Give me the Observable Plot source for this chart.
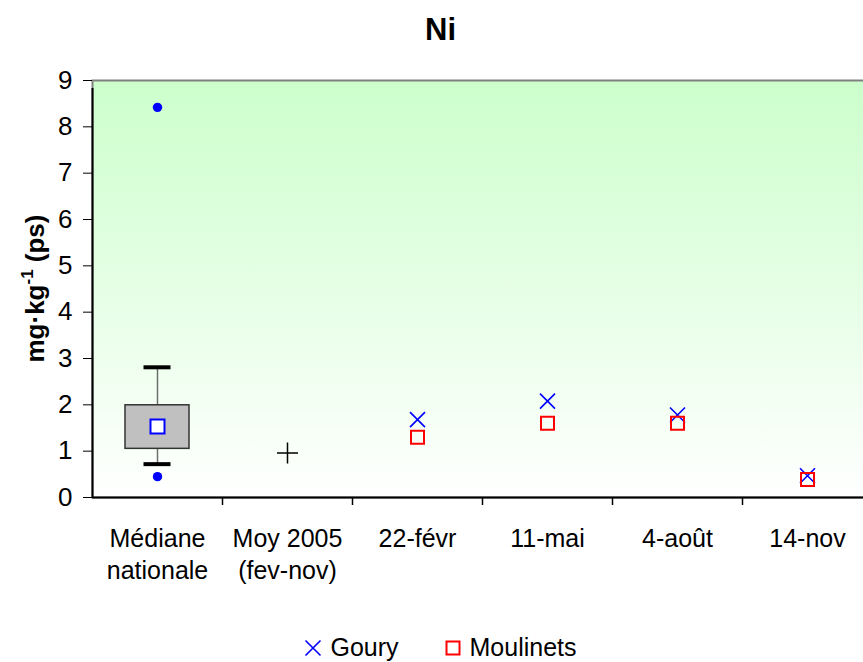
<!DOCTYPE html>
<html>
<head>
<meta charset="utf-8">
<script src="https://cdn.jsdelivr.net/npm/d3@7"></script>
<script src="https://cdn.jsdelivr.net/npm/@observablehq/plot@0.6"></script>
<style>
  body { margin: 0; background: #fff; font-family: "Liberation Sans", Arial, sans-serif; }
  #wrap { width: 863px; height: 662px; overflow: hidden; position: relative; }
  #title { height: 60px; line-height: 60px; text-align: center; font-weight: bold; font-size: 31px; padding-left: 18px; }
  #chart svg { display: block; max-width: none; }
  #legend { position: absolute; left: 0; top: 633px; width: 863px; padding-left: 18px; box-sizing: border-box;
            display: flex; justify-content: center; align-items: center; font-size: 25px; }
  #legend .item { display: flex; align-items: center; }
  #legend .item + .item { margin-left: 45px; }
  #legend svg { margin-right: 8px; }
</style>
</head>
<body>
<div id="wrap">
  <div id="title">Ni</div>
  <div id="chart"></div>
  <div id="legend"></div>
</div>
<script>
// Categories along the x axis (line breaks are drawn as two-line labels)
const categories = ["Médiane\nnationale", "Moy 2005\n(fev-nov)", "22-févr", "11-mai", "4-août", "14-nov"];
const sampleDates = ["22-févr", "11-mai", "4-août", "14-nov"];

// National distribution summary (mg/kg dry weight)
const boxQ1 = 1.05;
const boxQ3 = 1.99;
const whiskerLow = 0.72;
const whiskerHigh = 2.81;
const boxCentre = 1.53;
const outliers = [8.42, 0.45];

// 2005 average (Feb–Nov)
const moy2005 = 0.96;

// Campaign values per site
const goury = [1.68, 2.08, 1.78, 0.47];
const moulinets = [1.30, 1.60, 1.60, 0.39];

// y axis ticks
const yTicks = [0, 1, 2, 3, 4, 5, 6, 7, 8, 9];

// Layout
const W = 873, ML = 92, MR = 1, MT = 20, MB = 100, H = 537;
const step = (W - ML - MR) / categories.length;

// Symbols sized so that r is the half-extent of the glyph
const half = size => Math.sqrt(size / Math.PI);
const symPlus = { draw(ctx, size) { const h = half(size); ctx.moveTo(-h, 0); ctx.lineTo(h, 0); ctx.moveTo(0, -h); ctx.lineTo(0, h); } };
const symTimes = { draw(ctx, size) { const h = half(size); ctx.moveTo(-h, -h); ctx.lineTo(h, h); ctx.moveTo(-h, h); ctx.lineTo(h, -h); } };
const symSquare = { draw(ctx, size) { const h = half(size); ctx.rect(-h, -h, 2 * h, 2 * h); } };

const boxRow = [{ cat: categories[0], q1: boxQ1, q3: boxQ3, lo: whiskerLow, hi: whiskerHigh, mid: boxCentre }];
const caps = [whiskerLow, whiskerHigh].map(v => ({ cat: categories[0], v }));
const outlierRows = outliers.map(v => ({ cat: categories[0], v }));
const moyRow = [{ cat: categories[1], v: moy2005 }];
const gouryRows = sampleDates.map((d, i) => ({ cat: d, v: goury[i] }));
const moulinetsRows = sampleDates.map((d, i) => ({ cat: d, v: moulinets[i] }));

const chart = Plot.plot({
  width: W, height: H,
  marginLeft: ML, marginRight: MR, marginTop: MT, marginBottom: MB,
  style: { fontFamily: "'Liberation Sans', Arial, sans-serif", fontSize: "24px", background: "transparent", maxWidth: "none", color: "#000" },
  x: { type: "band", domain: categories, padding: 0 },
  y: { domain: [0, 9] },
  marks: [
    Plot.frame({ fill: "url(#bgGrad)", stroke: "#808080", strokeWidth: 2 }),
    Plot.axisY({ ticks: yTicks, tickSize: 9, tickPadding: 11, fontSize: 26, label: null, stroke: "#000" }),
    Plot.axisX({ tickSize: 0, tickPadding: 27, fontSize: 25, lineHeight: 1.28, label: null }),
    // axis lines and category separators
    Plot.ruleY([0], { stroke: "#000", strokeWidth: 2 }),
    Plot.ruleX([categories[0]], { x: d => d, dx: -step / 2, y1: 0, y2: 9, insetBottom: -8, stroke: "#000", strokeWidth: 2 }),
    Plot.ruleX(categories, { x: d => d, dx: step / 2, y1: 0, y2: 0, insetBottom: -8, stroke: "#000", strokeWidth: 1.5 }),
    // box plot of the national distribution
    Plot.ruleX(boxRow, { x: "cat", y1: "q3", y2: "hi", stroke: "#6e6e6e", strokeWidth: 1.5 }),
    Plot.ruleX(boxRow, { x: "cat", y1: "lo", y2: "q1", stroke: "#6e6e6e", strokeWidth: 1.5 }),
    Plot.barY(boxRow, { x: "cat", y1: "q1", y2: "q3", fill: "#c0c0c0", stroke: "#333", strokeWidth: 1.5, insetLeft: 33, insetRight: 33 }),
    Plot.tickY(caps, { x: "cat", y: "v", stroke: "#000", strokeWidth: 4, insetLeft: 51.5, insetRight: 51.5 }),
    Plot.dot(boxRow, { x: "cat", y: "mid", symbol: symSquare, r: 7, fill: "#fff", stroke: "#0000ff", strokeWidth: 2 }),
    Plot.dot(outlierRows, { x: "cat", y: "v", r: 4.7, fill: "#0000ff", stroke: null }),
    // 2005 average
    Plot.dot(moyRow, { x: "cat", y: "v", symbol: symPlus, r: 10.5, stroke: "#000", strokeWidth: 1.5 }),
    // sites
    Plot.dot(gouryRows, { x: "cat", y: "v", symbol: symTimes, r: 7.5, stroke: "#0000ff", strokeWidth: 1.6 }),
    Plot.dot(moulinetsRows, { x: "cat", y: "v", symbol: symSquare, r: 6.5, fill: "none", stroke: "#ff0000", strokeWidth: 2 })
  ]
});

// background gradient: light green at the top fading to white at the axis
const svg = d3.select(chart);
const grad = svg.insert("defs", ":first-child").append("linearGradient")
  .attr("id", "bgGrad").attr("x1", 0).attr("y1", 0).attr("x2", 0).attr("y2", 1);
grad.append("stop").attr("offset", "0%").attr("stop-color", "#ccffcc");
grad.append("stop").attr("offset", "100%").attr("stop-color", "#ffffff");

// y axis title with superscript exponent
const yt = svg.append("text")
  .attr("transform", `translate(44,${MT + (H - MT - MB) / 2}) rotate(-90)`)
  .attr("text-anchor", "middle")
  .attr("font-weight", "bold")
  .attr("font-size", 26)
  .attr("fill", "#000");
yt.append("tspan").text("mg·kg");
yt.append("tspan").attr("font-size", 17).attr("dy", -11).text("-1");
yt.append("tspan").attr("dy", 11).text(" (ps)");

document.getElementById("chart").appendChild(chart);

// legend
const legend = d3.select("#legend");
function legendItem(label, drawGlyph) {
  const item = legend.append("div").attr("class", "item");
  const g = item.append("svg").attr("width", 18).attr("height", 18).append("g").attr("transform", "translate(9,9)");
  drawGlyph(g);
  item.append("span").text(label);
}
legendItem("Goury", g => g.append("path").attr("d", "M-7.5,-7.5L7.5,7.5M-7.5,7.5L7.5,-7.5").attr("stroke", "#0000ff").attr("stroke-width", 1.6).attr("fill", "none"));
legendItem("Moulinets", g => g.append("rect").attr("x", -6.5).attr("y", -6.5).attr("width", 13).attr("height", 13).attr("stroke", "#ff0000").attr("stroke-width", 2).attr("fill", "none"));
</script>
</body>
</html>
